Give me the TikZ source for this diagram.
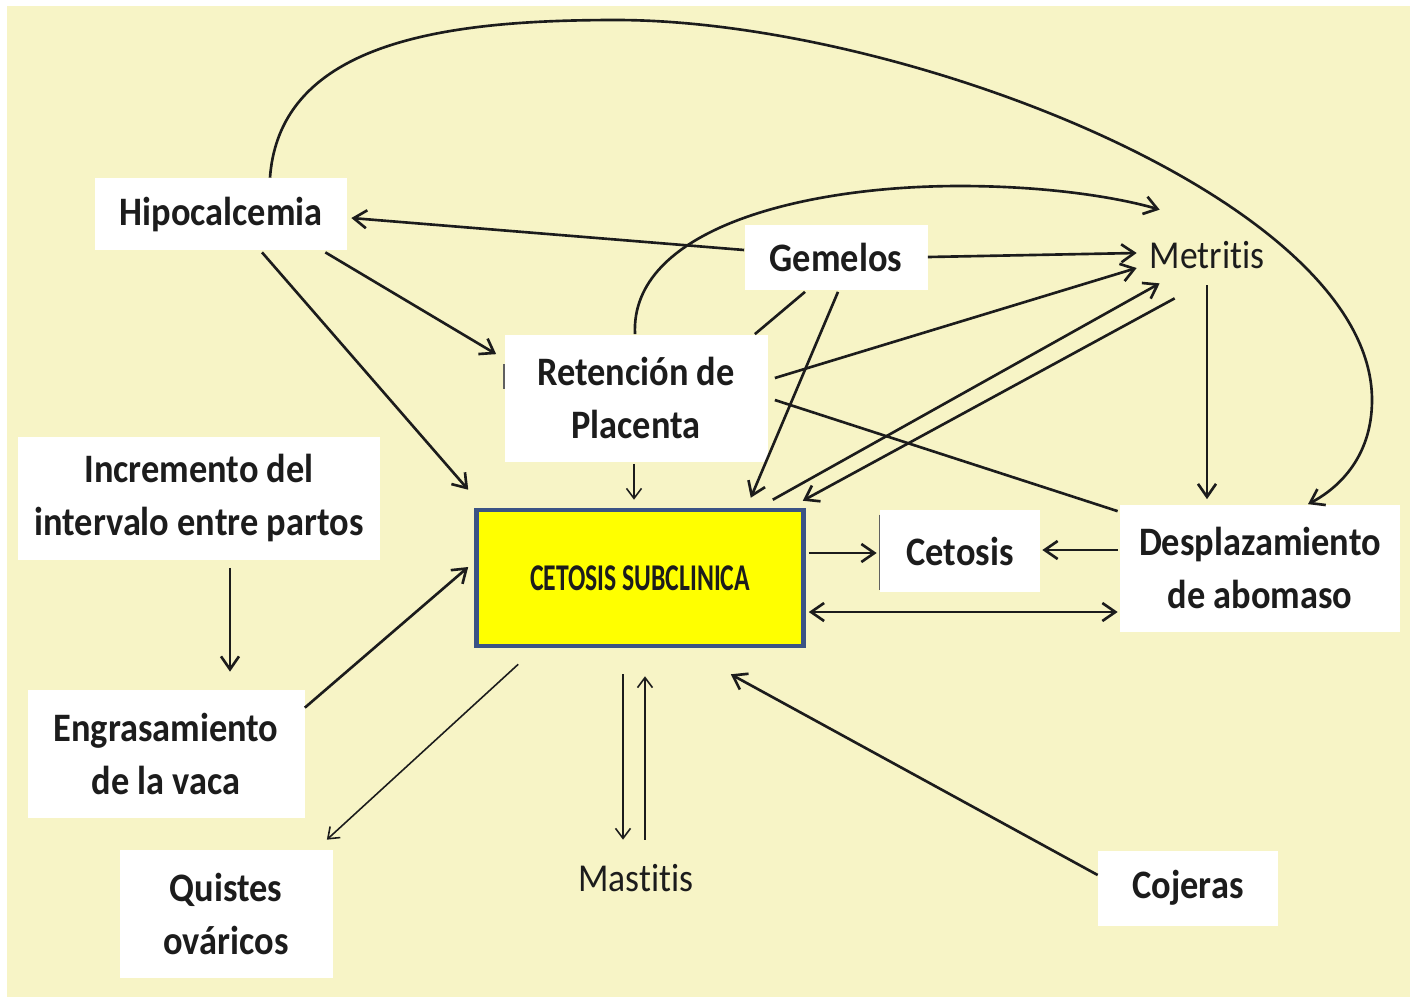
\documentclass[tikz,border=0pt]{standalone}
\usepackage{fontspec}
\setmainfont{Carlito}[FakeStretch=0.9, Ligatures=NoCommon]
\newfontfamily\narrowfont{Carlito}[FakeStretch=0.68, Ligatures=NoCommon]
\usetikzlibrary{arrows.meta}
\definecolor{paper}{HTML}{F7F4C6}
\definecolor{ink}{HTML}{1C1C1C}
\definecolor{frame}{HTML}{3B5385}
\definecolor{hot}{HTML}{FFFF00}
\newcommand{\pix}{0.02cm}
\tikzset{
  box/.style={fill=white, inner sep=0pt, align=center, text=ink, font=\bfseries\fontsize{23}{30.5}\selectfont},
  plain/.style={inner sep=0pt, text=ink, font=\fontsize{22.5}{30}\selectfont, minimum width=140*\pix, minimum height=50*\pix},
  core/.style={fill=hot, draw=frame, line width=2.6pt, inner sep=0pt, text=ink, font=\narrowfont\bfseries\fontsize{21.5}{26}\selectfont},
  arr/.style={draw=ink, line width=1.5pt, -{Straight Barb[length=2.6mm,width=3.6mm]}},
  arrs/.style={draw=ink, line width=0.9pt, -{Straight Barb[length=2mm,width=3mm]}},
  link/.style={draw=ink, line width=1.5pt},
  edgemark/.style={draw=ink!70, line width=0.8pt},
}

\begin{document}
\begin{tikzpicture}[x=0.02cm, y=-0.02cm]
  \useasboundingbox (0,0) rectangle (1417,1002);
  \fill[white] (0,0) rectangle (1417,1002);
  \fill[paper] (7,6) rectangle (1410,997);

  % nodes
  \node[box, minimum width=252*\pix, minimum height=72*\pix] (hipo) at (221,214) {Hipocalcemia};
  \node[box, minimum width=183*\pix, minimum height=65*\pix] (gem) at (836,257) {Gemelos};
  \node[plain] (met) at (1207,255) {Metritis};
  \node[box, minimum width=263*\pix, minimum height=127*\pix] (ret) at (636,398) {Retención de\\Placenta};
  \node[box, minimum width=362*\pix, minimum height=123*\pix] (incr) at (199,498) {Incremento del\\intervalo entre partos};
  \node[core, minimum width=327*\pix, minimum height=136*\pix] (cs) at (640,578) {CETOSIS SUBCLINICA};
  \node[box, minimum width=160*\pix, minimum height=82*\pix] (ceto) at (960,551) {Cetosis};
  \node[box, minimum width=280*\pix, minimum height=127*\pix] (desp) at (1260,568) {Desplazamiento\\de abomaso};
  \node[box, minimum width=277*\pix, minimum height=128*\pix] (engr) at (166,754) {Engrasamiento\\de la vaca};
  \node[box, minimum width=213*\pix, minimum height=128*\pix] (quis) at (226,914) {Quistes\\ováricos};
  \node[plain] (mast) at (636,878) {Mastitis};
  \node[box, minimum width=180*\pix, minimum height=75*\pix] (coj) at (1188,888) {Cojeras};

  \draw[edgemark] ([shift={(0,5)}]ceto.north west) -- ([shift={(0,-2)}]ceto.south west);
  \draw[edgemark] ([shift={(0,30)}]ret.north west) -- ([shift={(0,55)}]ret.north west);

  % curves
  \draw[arr] ([shift={(49,0)}]hipo.north) .. controls (280,40) and (450,20) .. (616,20)
    .. controls (900,20) and (1372,200) .. (1372,400)
    .. controls (1372,460) and (1335,490) .. ([shift={(48,0)}]desp.north);
  \draw[arr] ([shift={(-1,0)}]ret.north) .. controls (630,230) and (800,186) .. (960,186)
    .. controls (1050,186) and (1120,198) .. ([shift={(23,-20)}]met.north west);

  % straight connectors
  \draw[arr] ([shift={(0,-7)}]gem.west) -- ([shift={(4,4)}]hipo.east);
  \draw[arr] (gem.east) -- ([shift={(0,-2)}]met.west);
  \draw[arr] ([shift={(-22,2)}]hipo.south east) -- ([shift={(-8,20)}]ret.north west);
  \draw[arr] ([shift={(41,2)}]hipo.south) -- ([shift={(-6,-18)}]cs.north west);
  \draw[link] ([shift={(-31,2)}]gem.south) -- ([shift={(-13,0)}]ret.north east);
  \draw[arr] ([shift={(2,2)}]gem.south) -- ([shift={(-55,-10)}]cs.north east);
  \draw[arr] ([shift={(7,-20)}]ret.east) -- ([shift={(0,13)}]met.west);
  \draw[arr] ([shift={(-33,-8)}]cs.north east) -- ([shift={(23,3)}]met.south west);
  \draw[arr] ([shift={(38,18)}]met.south west) -- ([shift={(-3,-7)}]cs.north east);
  \draw[link] ([shift={(7,2)}]ret.east) -- ([shift={(-2,7)}]desp.north west);
  \draw[arr] ([shift={(0,5)}]met.south) -- ([shift={(-53,-5)}]desp.north);
  \draw[arrs] ([shift={(-2,2)}]ret.south) -- ([shift={(-6,-8)}]cs.north);
  \draw[arr] ([shift={(31,8)}]incr.south) -- ([shift={(64,-18)}]engr.north);
  \draw[arr] ([shift={(0,18)}]engr.north east) -- ([shift={(-6,-11)}]cs.west);
  \draw[arrs] ([shift={(44,16)}]cs.south west) -- ([shift={(-6,-10)}]quis.north east);
  \draw[arrs] ([shift={(-17,26)}]cs.south) -- ([shift={(-13,-13)}]mast.north);
  \draw[arrs] ([shift={(9,-13)}]mast.north) -- ([shift={(5,28)}]cs.south);
  \draw[arr] ([shift={(0,-13)}]coj.west) -- ([shift={(-75,26)}]cs.south east);
  \draw[arr] ([shift={(3,-25)}]cs.east) -- ([shift={(-3,2)}]ceto.west);
  \draw[arr] ([shift={(-2,-18)}]desp.west) -- ([shift={(2,-1)}]ceto.east);
  \draw[arr, {Straight Barb[length=2.6mm,width=3.6mm]}-{Straight Barb[length=2.6mm,width=3.6mm]}] ([shift={(3,34)}]cs.east) -- ([shift={(-2,44)}]desp.west);
\end{tikzpicture}
\end{document}
